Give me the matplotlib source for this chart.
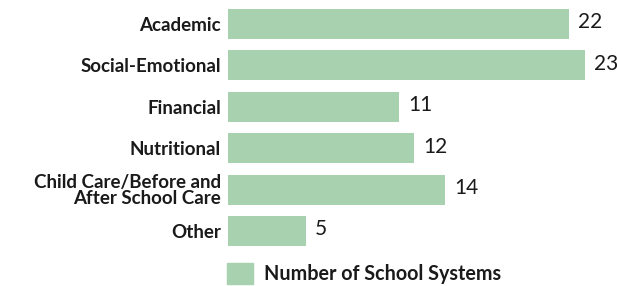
import matplotlib
matplotlib.use("Agg")
import matplotlib.pyplot as plt
from matplotlib.patches import Patch

categories = ["Academic", "Social-Emotional", "Financial", "Nutritional",
              "Child Care/Before and\nAfter School Care", "Other"]
values = [22, 23, 11, 12, 14, 5]
series_name = "Number of School Systems"

bar_color = "#a8d1b0"
text_color = "#1a1a1a"

fig = plt.figure(figsize=(6.17, 2.86), dpi=100)
ax = fig.add_axes([228/617, 0, 1 - 228/617, 1])
y = list(range(len(categories)))
bars = ax.barh(y, values, height=0.72, color=bar_color)
ax.set_xlim(0, (617 - 228) / 15.5)
ax.set_ylim((286 - 24) / 41.4, -24 / 41.4)
ax.set_yticks(y)
ax.set_yticklabels(categories, family="Lato", fontweight="bold", fontsize=13.5,
                   color=text_color, linespacing=0.95)
ax.tick_params(axis="y", length=0, pad=5)
ax.set_xticks([])
for s in ax.spines.values():
    s.set_visible(False)
for yi, v in zip(y, values):
    ax.text(v + 0.6, yi - 0.04, str(v), va="center", ha="left", fontsize=15,
            family="Lato", color=text_color)

leg = fig.legend(handles=[Patch(color=bar_color, label=series_name)],
                 loc="lower left", bbox_to_anchor=(227/617, 2/286), frameon=False,
                 borderpad=0, borderaxespad=0,
                 handlelength=1.3, handleheight=1.3, handletextpad=0.6,
                 prop={"family": "Lato", "weight": "bold", "size": 14.2})
for t in leg.get_texts():
    t.set_color(text_color)

fig.savefig("out.png", dpi=100)
